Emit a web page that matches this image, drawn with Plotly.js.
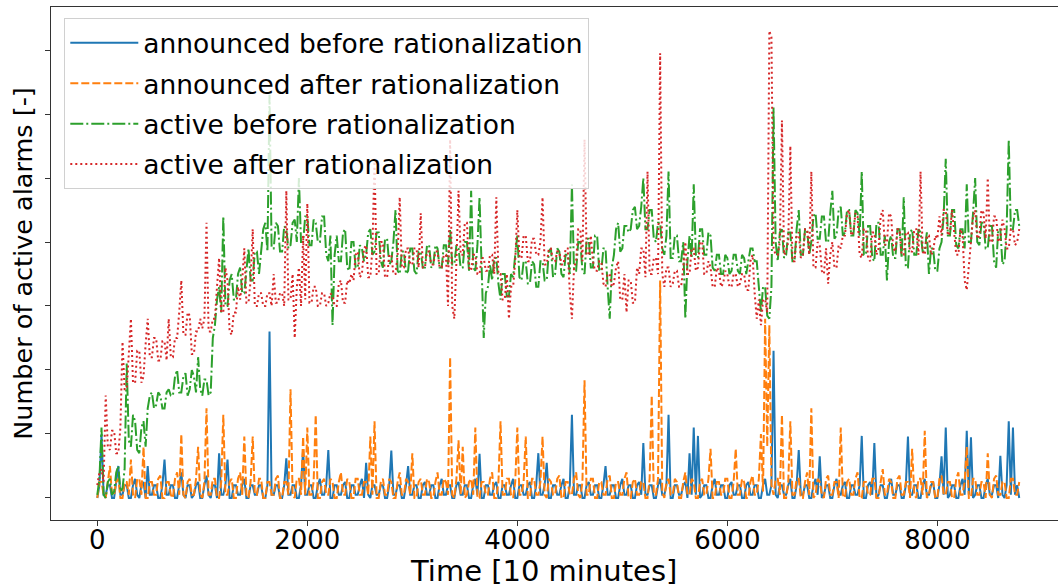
<!DOCTYPE html>
<html>
<head>
<meta charset="utf-8">
<script src="https://cdn.plot.ly/plotly-3.0.1.min.js"></script>
<style>html,body{margin:0;padding:0;background:#fff;}#chart{width:1058px;height:588px;}</style>
</head>
<body>
<div id="chart"></div>
<script>
// Time index step between readings (units of 10 minutes)
const timeStep = 20;

const announcedBefore = [
  0,2, 10,0.5, 0.5,2, 2,0, 0,2.5, 5,0.5, 0.5,2, 2,0, 0,2, 3,0.5, 0,2, 2.5,0, 5,0.5, 0.5,2, 2,0, 0,2, 6,0.5, 0.5,2, 2,0, 0,2,
  4,0.5, 0,2, 2,0, 0.5,2, 2.5,0, 0,2, 3.5,0.5, 0,2, 2,0, 7,0.5, 0.5,2, 6,0, 0,2, 2,0.5, 0.5,2, 3,0, 0,2, 2,0.5, 0.5,2, 2,0,
  0,2, 26,0.5, 0.5,2, 2,0, 0,2, 6.2,0.5, 0.5,2, 2,0, 0,2, 7.6,0.5, 0.5,2, 2,0, 0,2, 3,0.5, 0.5,2, 7.5,0, 0,2, 2,0.5, 0.5,2, 2.5,0,
  0,2, 2,0.5, 0.5,2, 3,0, 5.5,0.5, 0,2, 2,0.5, 0.5,2, 2,0, 0,2, 7.4,0.5, 0.5,2, 2,0, 0,2, 5,0.5, 0.5,2, 2,0, 0,2, 2.5,0.5, 0.5,2,
  2,0, 0,2, 3,0.5, 0.5,2, 2,0, 0,2, 2.5,0.5, 0.5,2, 2,0, 0,2, 3,0.5, 6.9,0, 0,2, 2,0.5, 0.5,2, 2.5,0, 0,2, 2,0.5, 0.5,2, 3,0,
  0,2, 2,0.5, 0.5,2, 2.5,0, 0,2, 7,0.5, 0.5,2, 5.5,0, 0,2, 2,0.5, 0.5,2, 3,0, 0,2, 13,0.5, 0.5,2, 2,0, 0,2, 2.5,0.5, 0.5,2, 2,0,
  0,2, 5,0.5, 0.5,2, 2,0, 0,2, 3,0.5, 0.5,2, 2,0, 0,2, 2.5,0.5, 8.6,0.5, 0.5,2, 2,0, 0,2, 3,0.5, 0.5,2, 13,0, 0,2, 2,0.5, 0.5,2,
  2.5,0, 7,0.5, 11,0.5, 9.7,0, 0.5,2, 2,0, 0,2, 3,0.5, 0.5,2, 2,0, 0,2, 2.5,0.5, 0.5,2, 2,0, 0,2, 2.5,0.5, 0.5,2, 2,0, 0,2, 3,0.5,
  0.5,2, 23,0.5, 0,2, 2,0.5, 0.5,2, 3,0, 0,2, 7.5,0.5, 0.5,2, 2,0, 0,2, 3,0.5, 6.5,0, 0.5,2, 2,0, 0,2, 3,0.5, 0.5,2, 2.5,0, 0,2,
  2,0.5, 0.5,2, 9.7,0, 0,2, 2.5,0.5, 8.6,0, 0.5,2, 2,0, 0,2, 3,0.5, 0.5,2, 2,0, 0,2, 9.6,0.5, 0.5,2, 2,0, 0,2, 3,0.5, 0.5,2, 2.5,0,
  0,2, 6.5,0.5, 11,0, 0.5,2, 2,0, 0,2, 3,0.5, 10.5,0.5, 9.5,0, 0.5,2, 2,0, 0,2, 3,0.5, 0.5,2, 2,0, 6.6,0.5, 0,2, 12,0.5, 11,0.5, 2,0
];

const announcedAfter = [
  0,2.5, 2.5,0.5, 0,3, 5,0.5, 0.5,2.5, 3,0, 0,2.5, 2.5,0.5, 6,0.5, 0,3, 3,0.5, 8,0, 0,2.5, 2.5,0.5, 0.5,3, 3.5,0, 0,2.5, 2.5,0.5, 0,3, 4,0.5,
  10,0.5, 0,2.5, 3,0.5, 0.5,3, 8,0.5, 0,2.5, 14,0.5, 0.5,3, 3,0, 0,2.5, 13,0.5, 0.5,2.5, 3,0, 0,3, 4,0.5, 9.6,0.5, 0,2.5, 9.6,0.5, 0.5,3, 3,0,
  0,2.5, 2.5,0.5, 0.5,3, 3.5,0, 0,2.5, 2.5,0.5, 17,0.5, 0,3, 3,0.5, 9.6,0.5, 11,0.5, 0.5,2.5, 13,0, 0,2.5, 3,0.5, 0.5,3, 2.5,0, 0,2.5, 4,0.5, 0.5,3,
  2.5,0, 0,3, 3,0.5, 0.5,2.5, 2.5,0.5, 9.6,0.5, 12,0, 0,2.5, 3,0.5, 0.5,3, 2.5,0, 0,2.5, 4,0.5, 0.5,3, 2.5,0.5, 7,0, 0,2.5, 3,0.5, 0.5,3, 2.5,0,
  0,2.5, 4,0.5, 0.5,3, 2.5,0.5, 22,0.5, 0,3, 9,0.5, 8,0, 0.5,2.5, 3,0.5, 11,0, 0,2.5, 2.5,0.5, 0.5,3, 4,0, 0,2.5, 12,0.5, 0.5,3, 3,0.5, 0,2.5,
  11,0.5, 0.5,2.5, 9.6,0, 0,3, 3,0.5, 0.5,2.5, 9.6,0.5, 0,3, 2.5,0.5, 0.5,3, 3.5,0, 0,2.5, 2.5,0.5, 0.5,3, 4,0.5, 0,2.5, 18.4,0.5, 0.5,3, 3,0, 0,2.5,
  2.5,0.5, 0.5,3, 3.5,0, 0,2.5, 2.5,0.5, 0.5,3, 4,0, 0,2.5, 3,0.5, 0.5,2.5, 2.5,0, 0,3, 16,0.5, 0.5,3, 34,1, 0,2.5, 3,0.5, 0.5,3, 2.5,0, 0,2.5,
  4,0.5, 0.5,3, 2.5,0, 0,2.5, 3,0.5, 0.5,3, 7.7,0, 0,2.5, 2.5,0.5, 0.5,3, 3,0, 0,2.5, 7.7,0.5, 0.5,3, 2.5,0, 0,2.5, 3.5,0.5, 0.5,3, 10,1, 28,8,
  27,2, 0.5,3, 3,0.5, 13,0, 0,2.5, 12,0.5, 0.5,3, 3,0, 0,2.5, 4,0.5, 14,0, 0.5,3, 2.5,0.5, 0,3, 3.5,0.5, 0.5,2.5, 2.5,0, 11,0.5, 0,2.5, 3,0.5,
  0.5,3, 4,0, 0,2.5, 2.5,0.5, 0.5,3, 3,0, 0,2.5, 4.5,0.5, 0.5,3, 2.5,0, 0,3, 3.5,0.5, 0.5,2.5, 2.5,0, 7.7,0.5, 0,3, 3,0.5, 10.5,0, 0.5,2.5, 2.5,0,
  0,3, 3.5,0.5, 0.5,2.5, 2.5,0, 0,3, 4,0.5, 0.5,2.5, 8,0, 0,3, 3,0.5, 0.5,2.5, 2.5,0, 7,0.5, 0,3, 3.5,0.5, 0.5,2.5, 2.5,0, 0,3, 3,0.5, 0.5,2.5
];

const activeBefore = [
  0.5,3, 11,0.5, 0,2.5, 3,0.5, 1,4, 5,1, 1.5,4.5, 21,9, 8,13, 12,7.5, 7,11, 12,8, 14,16, 16.5,14, 14.5,16.5, 16,14, 14,16.5, 17,16, 16,19, 20,16.5,
  16.5,19, 19.5,16, 17,20, 19,16.5, 22,17, 16,18.5, 18.5,16, 16.5,25, 27,31, 33,29, 44,30, 30,34, 35,31, 31,35, 36,32, 32,36, 39,34, 34,38.5, 38.5,35, 39,42,
  43,38.5, 63,39, 39,43, 42.5,38.5, 38.5,42.5, 42,39, 39.5,43, 43.5,40, 50,40, 40,44, 44,39.5, 39.5,43.5, 43,40, 40,44, 44,38, 37,41, 27,38, 41,37, 37,41.5, 42,36,
  35.5,40, 40,36, 36,39.5, 39,37, 38,41.5, 42,38, 38.5,41.5, 41.5,37, 36,40.5, 40.5,36.5, 37,40, 45,35.5, 35,38.5, 38.5,35, 35.5,39, 39,35.5, 35,38.5, 38.5,36, 36,39.5, 39.5,36,
  36.5,39.5, 39,36, 36,39.5, 39.5,36.5, 42,36.5, 36.5,39.5, 39,36, 36,40, 40,35.5, 48,36, 35.5,39.5, 47,35, 25,32, 33,36.5, 34,37.5, 37.5,33.5, 31,35, 35,31.5, 31.5,35, 34.5,38,
  41,34.5, 34,37, 37,33.5, 33.5,37, 36.5,33, 33,37, 37,34, 34,38.5, 39,34.5, 35,39, 38.5,35, 34.5,38, 38,35, 49,35.5, 35.5,40, 40,35.5, 35,40.5, 40.5,36, 36,41, 41,35.5,
  35.5,39, 39,33, 28,36, 38,42, 43,38.5, 39,42.5, 42.5,41.5, 42,45, 45.5,42, 42.5,45.5, 50,42, 42,45, 45,40.5, 40,43, 43,39, 38,41, 51,37.5, 37.5,41, 41,37, 37,40,
  28,37, 41,37.5, 49,38, 37.5,42, 42,38, 38,41.5, 41,36, 35.5,38, 38,35, 35,38, 37.5,35, 35.5,38, 38,35.5, 35,38, 37.5,35, 37,39, 39,37, 37,33, 29,33, 33,28.5,
  28,33, 61,40, 37,41.5, 42,37.5, 38,41.5, 41.5,37, 37,42, 45,38, 38,42, 42,38, 40,44, 44.5,40.5, 40.5,44, 44,40, 40,44.5, 48,40.5, 41,45, 45.5,41, 41.5,45, 45,41,
  41,45, 44.5,41, 51,38, 38,42.5, 42.5,37.5, 37,43, 43,38, 38,41, 34,40, 41,37.5, 37.5,42, 42,37.5, 47,36, 36,41.5, 42,38, 38,42, 41.5,38.5, 38.5,41.5, 35,39, 39,35.5,
  35.5,39, 40,44, 53,41, 41,45, 45,39.5, 39,42, 42,39, 49,40, 40,44.5, 50,40, 39.5,43, 43,39, 39,42.5, 42.5,37, 36,42, 42,36.5, 37,42, 56,42, 42,45, 45,42.5
];

const activeAfter = [
  2,4, 4.5,2.5, 16,8, 7.5,10.5, 10.5,7, 7,11, 24.4,17, 17,23, 28,18, 18,23, 23,18, 19,24, 28,22, 22,25, 25,21.5, 21.5,24.5, 24.5,21.5, 28,22, 22,25, 25,29,
  34,25.5, 25.5,29, 28.5,22.5, 22.5,26, 26,28, 26.5,28, 43,26, 26,28, 28,33, 37.5,29, 29,36, 34,26, 25.5,29, 29,33, 31,34, 39,30.5, 30.5,34, 42,30, 30,32, 32,30,
  30,32, 32,30, 35,30.5, 30.5,32, 32,30, 48,31, 31,35, 25,33, 36,30, 41,31, 46,30.5, 30.5,33, 33,30, 30,32, 32,30, 30.5,32, 31.5,30, 30,33.5, 34,30.5, 30.5,34,
  33.5,35, 34,38, 38.5,34.5, 35,39, 39.5,34.5, 34.5,39, 53,35, 35,40, 40,34.5, 34.5,38, 38,35, 35,38, 47,36, 36,39, 39,36.5, 36.5,39, 39,36, 44.5,36, 36,38.5, 38.5,36.5,
  36.5,38.5, 38.5,36, 36,38, 38,30, 56,30, 28,37, 48,38, 38,43, 43,36, 35.5,38, 38,35, 35,37.5, 37.5,35.5, 35.5,38, 38,35, 47,35, 35,31, 31,35, 28,33, 33,37,
  45,37.5, 37.5,41, 41,37, 37,40.5, 40.5,38, 38,40, 47,36.5, 36.5,39, 39,37, 37,38.5, 38.5,36.5, 36.5,39, 39,32, 28,36, 37,42, 42,37, 56,38, 38,41, 37,35.5, 35.5,37,
  37,33.5, 33,35, 35,33, 33.5,36, 37,31, 31,35, 29,34, 34,30.5, 30.5,36, 35,39, 39,34.5, 51,35, 35,37.5, 37.5,35, 69.5,35, 33,36, 36,33, 33.5,35.5, 35.5,33, 33,36,
  40,35, 35,39, 39,35.5, 36,40, 40,35, 35,37, 36,33, 33,36, 35.5,33, 33.5,35.5, 35,33, 33,35, 35,33, 33.5,35, 35,32.5, 32.5,37, 38,32, 28,31, 27,31, 31,29,
  73,72, 39,38, 38,40, 59,38, 38.5,40, 55,37, 37,41, 41.5,37.5, 38,42, 42,38, 51,36, 36,40, 39.5,35.5, 35,39, 33.5,38, 40,36, 36,39.5, 39,41, 41,44.5, 45,41,
  41.5,44.5, 44,38, 37.5,42, 42,37.5, 37,41.5, 41.5,38, 39,44, 45,39.5, 40,44.5, 44,39, 38.5,42, 42,38, 38,41.5, 41.5,38.5, 38.5,42, 42,38, 51,38.5, 38,41, 41,38, 38.5,41,
  40.5,44, 41,45, 45,41, 41.5,45, 42,38, 38,42, 41,34, 32.5,37, 40,44, 45,40.5, 41,45, 44.5,40.5, 50,40, 40,44, 44,40, 40.5,43.5, 42,39, 39,42, 42,39.5, 40,42
];

const seriesNames = [
  'announced before rationalization',
  'announced after rationalization',
  'active before rationalization',
  'active after rationalization'
];
const xTitle = 'Time [10 minutes]';
const yTitle = 'Number of active alarms [-]';
const xTickVals = [0, 2000, 4000, 6000, 8000];
const xTickText = ['0', '2000', '4000', '6000', '8000'];
const yTickVals = [0, 10, 20, 30, 40, 50, 60, 70];

const timeIdx = announcedBefore.map((_, i) => i * timeStep);

const colors = ['#1f77b4', '#ff7f0e', '#2ca02c', '#d62728'];
const dashes = ['solid', '8px,3px', '13px,3px,2px,3px', '2px,3px'];
const ys = [announcedBefore, announcedAfter, activeBefore, activeAfter];

const traces = ys.map((y, k) => ({
  type: 'scatter',
  mode: 'lines',
  x: timeIdx.slice(0, y.length),
  y: y,
  name: seriesNames[k],
  legendgroup: 'g' + k,
  line: {color: colors[k], width: 2, dash: dashes[k]}
}));

const font = 'DejaVu Sans, Arial, sans-serif';
const layout = {
  width: 1058,
  height: 588,
  margin: {l: 51, r: 0, t: 7, b: 68},
  paper_bgcolor: '#ffffff',
  plot_bgcolor: '#ffffff',
  font: {family: font, color: '#000000'},
  showlegend: true,
  legend: {
    x: 0.0132, y: 0.9785, xanchor: 'left', yanchor: 'top',
    font: {family: font, size: 26.5, color: '#000000'},
    bgcolor: 'rgba(255,255,255,0.8)',
    bordercolor: '#d0d0d0',
    borderwidth: 1,
    traceorder: 'grouped',
    tracegroupgap: 3,
    itemwidth: 68
  },
  xaxis: {
    range: [-441, 9149],
    tickvals: xTickVals,
    ticktext: xTickText,
    ticks: 'outside',
    ticklen: 5,
    tickwidth: 1,
    tickcolor: '#333333',
    ticklabelstandoff: -8,
    tickfont: {family: font, size: 26, color: '#000000'},
    showline: true,
    linecolor: '#333333',
    linewidth: 1,
    mirror: true,
    showgrid: false,
    zeroline: false
  },
  yaxis: {
    range: [-3.44, 76.72],
    tickvals: yTickVals,
    showticklabels: false,
    ticks: 'outside',
    ticklen: 5,
    tickwidth: 1,
    tickcolor: '#333333',
    showline: true,
    linecolor: '#333333',
    linewidth: 1,
    mirror: false,
    showgrid: false,
    zeroline: false,
    title: {text: yTitle, font: {family: font, size: 25.5, color: '#000000'}, standoff: 5}
  },
  annotations: [{
    text: xTitle,
    xref: 'paper', yref: 'paper',
    x: 0.4886, y: -0.0995,
    xanchor: 'center', yanchor: 'middle',
    showarrow: false,
    font: {family: font, size: 29, color: '#000000'}
  }]
};

Plotly.newPlot('chart', traces, layout, {displayModeBar: false, staticPlot: true});
</script>
</body>
</html>
